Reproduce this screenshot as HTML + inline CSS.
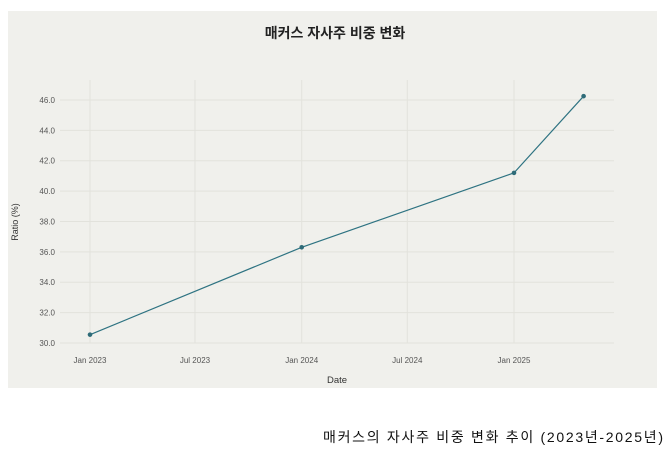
<!DOCTYPE html>
<html><head><meta charset="utf-8"><style>
body{margin:0;background:#fff;width:670px;height:460px;overflow:hidden;font-family:"Liberation Sans","Noto Sans CJK KR",sans-serif}
</style></head><body>
<svg width="670" height="460">
<rect x="8" y="11" width="649" height="377" fill="#f0f0ec"/>
<text x="335" y="38" text-anchor="middle" font-size="14" font-weight="bold" fill="#222" font-family="Liberation Sans, Noto Sans CJK KR, sans-serif">매커스 자사주 비중 변화</text>
<g id="grid"></g><g id="axes"></g><g id="series"></g>
<text x="18" y="222" transform="rotate(-90 18 222)" text-anchor="middle" font-size="9" fill="#333">Ratio (%)</text>
<text x="337" y="383" text-anchor="middle" font-size="9.5" fill="#333">Date</text>
<text x="323" y="442" font-size="14" fill="#111" textLength="340" lengthAdjust="spacing" font-family="Liberation Sans, Noto Sans CJK KR, sans-serif">매커스의 자사주 비중 변화 추이 (2023년-2025년)</text>
</svg>
<script>
const dates=["2023-01-01","2024-01-01","2025-01-01","2025-05-01"];
const values=[30.55,36.3,41.2,46.25];
const yTicks=[30,32,34,36,38,40,42,44,46];
const xTickDates=["2023-01-01","2023-07-01","2024-01-01","2024-07-01","2025-01-01"];
const xTickLabels=["Jan 2023","Jul 2023","Jan 2024","Jul 2024","Jan 2025"];
const NS="http://www.w3.org/2000/svg";
const t0=Date.parse("2023-01-01"),t1=Date.parse("2025-01-01");
function xs(d){return 90+(Date.parse(d)-t0)/(t1-t0)*(514-90);}
function ys(v){return 343-(v-30)*15.19;}
function mk(tag,attrs,parent){const e=document.createElementNS(NS,tag);for(const k in attrs)e.setAttribute(k,attrs[k]);document.getElementById(parent).appendChild(e);return e;}
yTicks.forEach(v=>{
 const l=mk("line",{x1:60,x2:614,y1:ys(v),y2:ys(v),stroke:"#e2e2dc","stroke-width":1},"grid");
 
 
 const t=mk("text",{x:55,y:ys(v)+3,"text-anchor":"end","font-size":8,fill:"#555"},"axes");
 t.textContent=v.toFixed(1);
 
 
});
xTickDates.forEach((d,i)=>{
 const l=mk("line",{x1:xs(d),x2:xs(d),y1:80,y2:343,stroke:"#e2e2dc","stroke-width":1},"grid");
 
 
 const t=mk("text",{x:xs(d),y:363,"text-anchor":"middle","font-size":8,fill:"#555"},"axes");
 t.textContent=xTickLabels[i];
 
 
});
const p=mk("polyline",{points:dates.map((d,i)=>xs(d)+","+ys(values[i])).join(" "),fill:"none",stroke:"#2e7382","stroke-width":1.2},"series");


dates.forEach((d,i)=>{
 const c=mk("circle",{cx:xs(d),cy:ys(values[i]),r:2.3,fill:"#2e6b78"},"series");
 
 
});
</script>
</body></html>
